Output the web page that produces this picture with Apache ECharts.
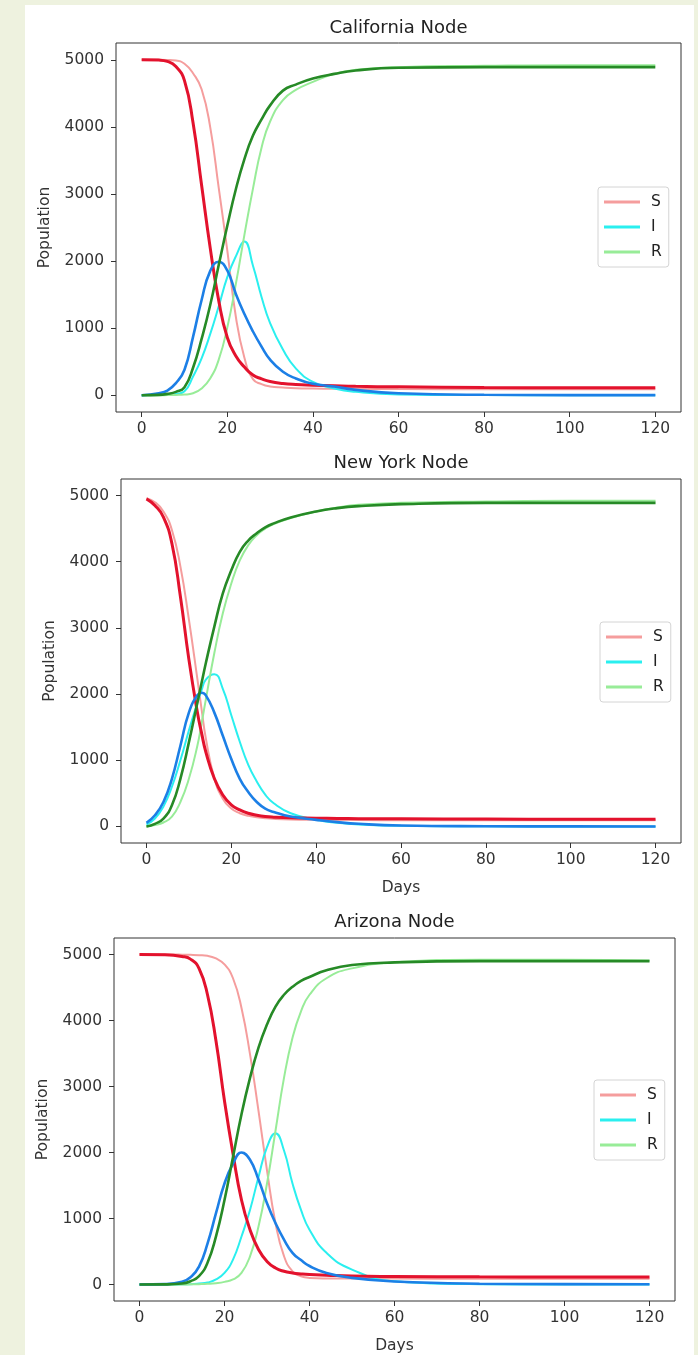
<!DOCTYPE html>
<html>
<head>
<meta charset="utf-8">
<script src="https://cdn.jsdelivr.net/npm/echarts@6/dist/echarts.min.js"></script>
<style>
  html, body { margin: 0; padding: 0; background: #eef2df; overflow: hidden; }
  #card { position: absolute; left: 25px; top: 5px; width: 669px; height: 1350px; background: #ffffff; }
  #chart { position: absolute; left: 0; top: 0; width: 698px; height: 1355px; }
</style>
</head>
<body>
<div id="card"></div>
<div id="chart"></div>
<script>
// ---- tick labels ----
const xTicks = [0, 20, 40, 60, 80, 100, 120];
const yTicks = [0, 1000, 2000, 3000, 4000, 5000];
const legendNames = ['S', 'I', 'R'];
const panelTitles = ['California Node', 'New York Node', 'Arizona Node'];

// ---- California ----
const caDays   = [0,4,6,8,10,12,14,16,18,20,22,24,26,28,30,33,36,40,45,50,60,80,100,120];
const caSLight = [5000,5000,4998,4990,4940,4800,4560,4000,3090,2160,1170,560,240,165,130,115,105,100,96,95,92,90,90,90];
const caILight = [0,2,5,20,60,280,550,910,1325,1760,2070,2290,1930,1465,1075,680,400,200,100,50,12,2,0,0];
const caRLight = [0,0,2,5,10,30,100,250,530,1010,1660,2390,3080,3690,4080,4400,4550,4670,4790,4850,4890,4910,4920,4920];
const caSDark  = [5000,4995,4975,4900,4690,4060,3130,2200,1410,860,585,420,300,245,205,175,160,150,140,132,125,115,112,110];
const caIDark  = [0,30,70,180,380,870,1420,1850,1990,1860,1510,1210,950,725,530,350,250,170,130,80,30,6,2,1];
const caRDark  = [0,5,20,50,120,410,840,1340,1940,2525,3070,3520,3870,4110,4320,4540,4630,4720,4790,4840,4880,4890,4890,4890];

// ---- New York ----
const nyDays   = [0,2,4,6,8,10,12,13,14,16,18,20,22,24,26,28,30,34,40,45,50,60,80,100,120];
const nySLight = [4960,4900,4760,4480,3930,3130,2230,1770,1330,730,420,270,200,160,140,125,115,105,100,98,96,95,93,92,92];
const nyILight = [30,120,300,600,1000,1450,1870,2060,2220,2300,2080,1680,1280,930,680,480,350,200,100,55,30,10,2,0,0];
const nyRLight = [0,20,60,150,370,720,1220,1560,1920,2620,3220,3670,4020,4250,4400,4500,4570,4660,4760,4820,4860,4890,4910,4920,4920];
const nySDark  = [4950,4850,4675,4275,3475,2525,1725,1410,1125,725,475,325,250,200,170,150,140,130,125,120,118,115,112,110,110];
const nyIDark  = [55,170,370,720,1220,1720,1985,2020,1980,1720,1370,1020,720,520,370,270,220,150,100,65,40,15,4,1,0];
const nyRDark  = [0,40,120,320,720,1270,1870,2170,2470,3020,3520,3870,4150,4320,4430,4520,4580,4670,4760,4810,4840,4870,4890,4890,4890];

// ---- Arizona ----
const azDays   = [0,6,10,12,14,16,18,20,22,24,26,28,30,32,34,36,38,40,44,50,60,80,100,120];
const azSLight = [5000,5000,4998,4995,4990,4980,4940,4850,4640,4190,3490,2630,1730,930,430,200,125,100,92,90,90,88,88,88];
const azILight = [0,0,2,5,15,30,76,176,377,728,1130,1630,2080,2290,2030,1530,1130,830,480,226,50,5,1,0];
const azRLight = [0,0,0,2,5,10,20,40,76,176,427,878,1530,2330,3130,3740,4140,4390,4640,4790,4880,4920,4920,4910];
const azSDark  = [5000,4995,4970,4930,4790,4390,3690,2780,1980,1280,830,530,350,250,200,175,160,150,140,128,122,116,115,115];
const azIDark  = [0,5,40,110,270,620,1080,1530,1830,2000,1890,1590,1230,930,680,480,370,280,175,100,45,12,5,3];
const azRDark  = [0,2,15,50,126,330,730,1280,1930,2580,3130,3590,3940,4210,4390,4510,4600,4660,4760,4840,4880,4900,4900,4900];

const panelData = [
  { days: caDays, light: [caSLight, caILight, caRLight], dark: [caSDark, caIDark, caRDark] },
  { days: nyDays, light: [nySLight, nyILight, nyRLight], dark: [nySDark, nyIDark, nyRDark] },
  { days: azDays, light: [azSLight, azILight, azRLight], dark: [azSDark, azIDark, azRDark] }
];

// ---- layout / style ----
const FONT = 'DejaVu Sans';
const lightColors = ['#f59d9d', '#2aefef', '#98ec98'];
const darkColors  = ['#e3122d', '#1c7fe6', '#268a26'];
const lightWidths = [2, 2, 2];
const darkWidths  = [3, 2.6, 2.6];
const grids = [
  { left: 116, top: 43,  width: 565, height: 369 },
  { left: 121, top: 479, width: 560, height: 364 },
  { left: 114, top: 938, width: 561, height: 365 }
];
const titlePos = [[398.5, 28], [401, 463], [394.5, 922]];
const legendPos = [[598, 187], [600, 622], [594, 1080]];
const showDays = [false, true, true];

const chart = echarts.init(document.getElementById('chart'), null, { renderer: 'canvas' });

const option = {
  animation: false,
  backgroundColor: 'transparent',
  textStyle: { fontFamily: FONT },
  grid: grids.map(g => ({
    left: g.left, top: g.top, width: g.width, height: g.height,
    show: true, borderColor: '#333', borderWidth: 1, backgroundColor: '#fff',
    containLabel: false
  })),
  xAxis: grids.map((g, i) => ({
    type: 'value', gridIndex: i, min: -6, max: 126, position: 'bottom',
    axisLine: { show: false, onZero: false },
    splitLine: { show: false },
    axisTick: { show: true, inside: false, length: 5, lineStyle: { color: '#333' }, customValues: xTicks },
    axisLabel: { color: '#333', fontSize: 15.5, fontFamily: FONT, margin: 9, customValues: xTicks, formatter: v => String(v) },
    name: showDays[i] ? 'Days' : '',
    nameLocation: 'middle', nameGap: 37,
    nameTextStyle: { color: '#333', fontSize: 15.5, fontFamily: FONT }
  })),
  yAxis: grids.map((g, i) => ({
    type: 'value', gridIndex: i, min: -250, max: 5250, position: 'left',
    axisLine: { show: false, onZero: false },
    splitLine: { show: false },
    axisTick: { show: true, inside: false, length: 5, lineStyle: { color: '#333' }, customValues: yTicks },
    axisLabel: { color: '#333', fontSize: 15.5, fontFamily: FONT, margin: 12, customValues: yTicks, formatter: v => String(v) },
    name: 'Population', nameLocation: 'middle', nameGap: 63,
    nameTextStyle: { color: '#333', fontSize: 15.5, fontFamily: FONT }
  })),
  legend: legendPos.map(p => ({
    data: legendNames,
    orient: 'vertical', left: p[0], top: p[1],
    icon: 'rect', itemWidth: 36, itemHeight: 3, itemGap: 9,
    padding: [7, 7, 7, 6],
    backgroundColor: 'rgba(255,255,255,0.85)',
    borderColor: '#d4d4d4', borderWidth: 1, borderRadius: 3,
    textStyle: { color: '#222', fontSize: 15.5, fontFamily: FONT, padding: [0, 0, 0, 6], lineHeight: 16 },
    selectedMode: false
  })),
  graphic: panelTitles.map((t, i) => ({
    type: 'text', x: titlePos[i][0], y: titlePos[i][1],
    style: { text: t, align: 'center', verticalAlign: 'middle', fontSize: 18, fontFamily: FONT, fill: '#222' }
  })),
  series: []
};

panelData.forEach((p, i) => {
  p.light.forEach((vals, k) => {
    option.series.push({
      type: 'line', name: legendNames[k], xAxisIndex: i, yAxisIndex: i,
      data: p.days.map((d, j) => [d, vals[j]]),
      symbol: 'none', smooth: 0.5,
      color: lightColors[k], itemStyle: { color: lightColors[k] },
      lineStyle: { color: lightColors[k], width: lightWidths[k] }, z: 2
    });
  });
  p.dark.forEach((vals, k) => {
    option.series.push({
      type: 'line', name: legendNames[k] + ' model', xAxisIndex: i, yAxisIndex: i,
      data: p.days.map((d, j) => [d, vals[j]]),
      symbol: 'none', smooth: 0.5,
      color: darkColors[k], itemStyle: { color: darkColors[k] },
      lineStyle: { color: darkColors[k], width: darkWidths[k] }, z: 3
    });
  });
});

chart.setOption(option);
</script>
</body>
</html>
